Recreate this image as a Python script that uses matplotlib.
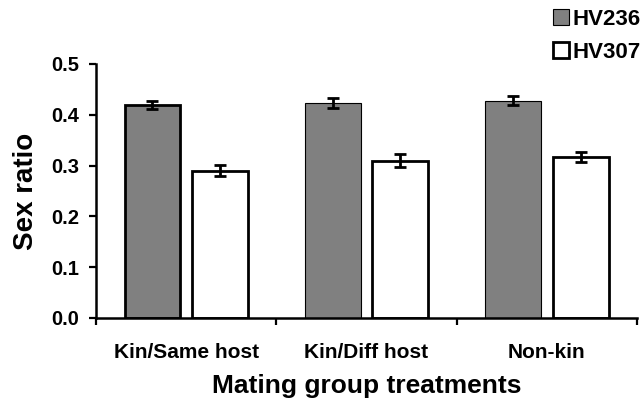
import numpy as np
import matplotlib
matplotlib.use('Agg')
import matplotlib.pyplot as plt
from matplotlib.patches import Patch

plt.rcParams['font.family'] = ['Liberation Sans', 'DejaVu Sans']
plt.rcParams['font.weight'] = 'bold'

treatments = ['Kin/Same host', 'Kin/Diff host', 'Non-kin']
hv236 = [0.419, 0.423, 0.428]
hv236_err = [0.008, 0.010, 0.009]
hv307 = [0.290, 0.310, 0.317]
hv307_err = [0.011, 0.012, 0.010]

fig = plt.figure(figsize=(6.41, 4.04), dpi=100)
ax = fig.add_axes([0.1498, 0.2129, 0.844, 0.6287])

x = np.arange(len(treatments))
w = 0.31
off = 0.187

# erste graue Saeule hat dicken Rand, die anderen duennen
ax.bar(x - off, hv236, w, color='#808080', edgecolor='black',
       linewidth=[2.0, 0.8, 0.8], zorder=2)
ax.bar(x + off, hv307, w, color='white', edgecolor='black',
       linewidth=2.0, zorder=2)
ax.errorbar(x - off, hv236, yerr=hv236_err, fmt='none', ecolor='black',
            elinewidth=2, capsize=4.5, capthick=2, zorder=3)
ax.errorbar(x + off, hv307, yerr=hv307_err, fmt='none', ecolor='black',
            elinewidth=2, capsize=4.5, capthick=2, zorder=3)

ax.set_xlim(-0.5, 2.5)
ax.set_ylim(0, 0.5)
ax.set_yticks(np.arange(0, 0.51, 0.1))
ax.set_yticklabels(['%.1f' % v for v in np.arange(0, 0.51, 0.1)])
ax.set_xticks([-0.5, 0.5, 1.5, 2.5])
ax.set_xticklabels([])
ax.set_xticks(x, minor=True)
ax.set_xticklabels(treatments, minor=True)
ax.tick_params(axis='x', which='minor', length=0, pad=18, labelsize=15)
ax.tick_params(axis='both', which='major', direction='out', length=5,
               width=1.6, labelsize=14.5)
ax.tick_params(axis='y', which='major', pad=7)

for s in ['top', 'right']:
    ax.spines[s].set_visible(False)
for s in ['left', 'bottom']:
    ax.spines[s].set_linewidth(1.8)

ax.set_ylabel('Sex ratio', fontsize=20, fontweight='bold', labelpad=9)
ax.set_xlabel('Mating group treatments', fontsize=19, fontweight='bold',
              labelpad=9)

handles = [Patch(facecolor='#808080', edgecolor='black', linewidth=0.8),
           Patch(facecolor='white', edgecolor='black', linewidth=2.0)]
fig.legend(handles, ['HV236', 'HV307'], loc='upper right',
           bbox_to_anchor=(0.999, 0.978), frameon=False, fontsize=16,
           borderpad=0, borderaxespad=0,
           handlelength=0.72, handleheight=0.72, handletextpad=0.14,
           labelspacing=0.55)

fig.savefig('out.png', dpi=100)
